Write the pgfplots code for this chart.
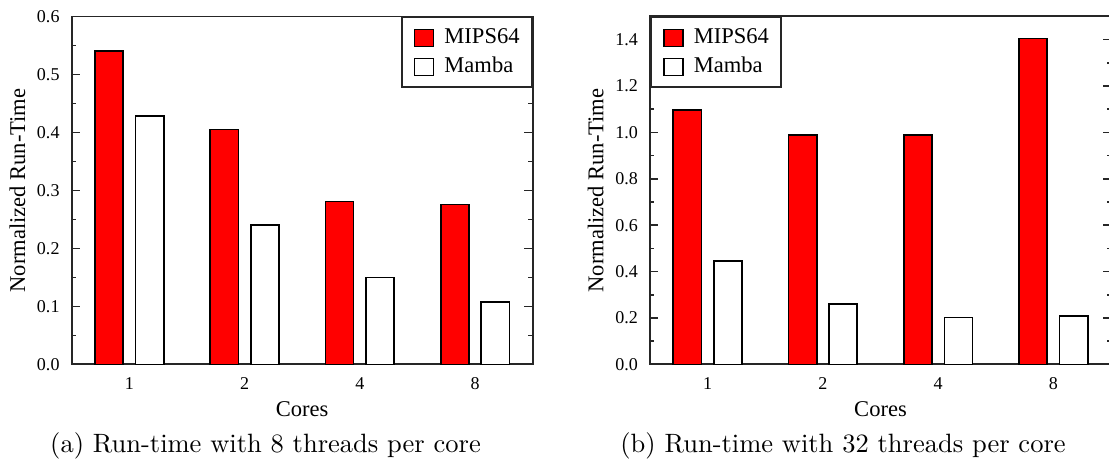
\documentclass[border=0pt]{standalone}
\usepackage{pgfplots}
\usepackage{pgfplotstable}
\pgfplotsset{compat=1.18}
\usepackage{fontspec}
\newfontfamily\plotfont{Liberation Serif}
\newcommand\labelfont{\plotfont\fontsize{8.5}{10}\selectfont}
\newcommand\tickfont{\plotfont\fontsize{6.8}{8}\selectfont}

% normalized run-time, cores 1, 2, 4, 8
\pgfplotstableread{
x mips mamba
0 0.541 0.428
1 0.405 0.240
2 0.281 0.150
3 0.276 0.108
}\eightthreads

\pgfplotstableread{
x mips mamba
0 1.097 0.445
1 0.990 0.260
2 0.988 0.203
3 1.405 0.210
}\thirtytwothreads

\pgfplotsset{
  runtime/.style={
    scale only axis, width=174pt, height=131.34pt,
    axis line style={line width=0.75pt, black!85},
    xmin=-0.5, xmax=3.5, ymin=0,
    xtick={0,1,2,3}, xticklabels={1,2,4,8},
    x tick style={draw=none},
    y tick style={line width=0.6pt, black!85},
    major tick length=3.2pt, minor tick length=1.7pt,
    minor y tick num=1,
    tick align=inside,
    /pgf/number format/assume math mode=true,
    /pgf/number format/fixed,
    /pgf/number format/fixed zerofill,
    /pgf/number format/precision=1,
    tick label style={font=\tickfont},
    yticklabel style={anchor=east, inner xsep=0pt, xshift=-4.4pt},
    xticklabel style={anchor=base, yshift=-9.36pt},
    label style={font=\labelfont},
    xlabel={Cores}, ylabel={Normalized Run-Time},
    xlabel style={at={(axis description cs:0.5,-0.1493)}, anchor=base},
    ylabel style={at={(axis description cs:-0.1011,0.5)}, anchor=base},
    legend cell align=left,
    legend style={draw=black!85, line width=0.75pt, font=\labelfont,
      inner xsep=4.6pt, inner ysep=4pt, row sep=3.4pt, column sep=3.8pt,
      nodes={inner sep=0pt, text height=6pt, text depth=1.5pt}},
  },
  barsquare/.style={legend image code/.code={
      \draw[##1] (0pt,-3.2pt) rectangle (7.2pt,3.2pt);}},
  mipsbar/.style={ybar, bar width=0.245, bar shift=-0.176,
    fill=red, draw=black, line width=0.6pt, barsquare},
  mambabar/.style={ybar, bar width=0.245, bar shift=0.176,
    fill=white, draw=black, line width=0.6pt, barsquare},
}

\begin{document}
\begin{tikzpicture}
\path[use as bounding box] (-27.06pt,-36.80pt) rectangle (391.48pt,137.56pt);

\begin{axis}[runtime, at={(0pt,0pt)}, anchor=south west,
    ymax=0.6, ytick={0,0.1,0.2,0.3,0.4,0.5,0.6},
    legend style={at={(1,1)}, anchor=north east}]
\addplot[mipsbar] table[x=x, y=mips]{\eightthreads};
\addplot[mambabar] table[x=x, y=mamba]{\eightthreads};
\legend{MIPS64, Mamba}
\end{axis}

\begin{axis}[runtime, at={(218.25pt,0pt)}, anchor=south west,
    ymax=1.5, ytick={0,0.2,0.4,0.6,0.8,1.0,1.2,1.4},
    legend style={at={(0,1)}, anchor=north west}]
\addplot[mipsbar] table[x=x, y=mips]{\thirtytwothreads};
\addplot[mambabar] table[x=x, y=mamba]{\thirtytwothreads};
\legend{MIPS64, Mamba}
\end{axis}

\node[anchor=base, font=\fontsize{10}{12}\selectfont] at (73.14pt,-33.4pt)
  {(a) Run-time with 8 threads per core};
\node[anchor=base, font=\fontsize{10}{12}\selectfont] at (291.1pt,-33.4pt)
  {(b) Run-time with 32 threads per core};
\end{tikzpicture}
\end{document}
